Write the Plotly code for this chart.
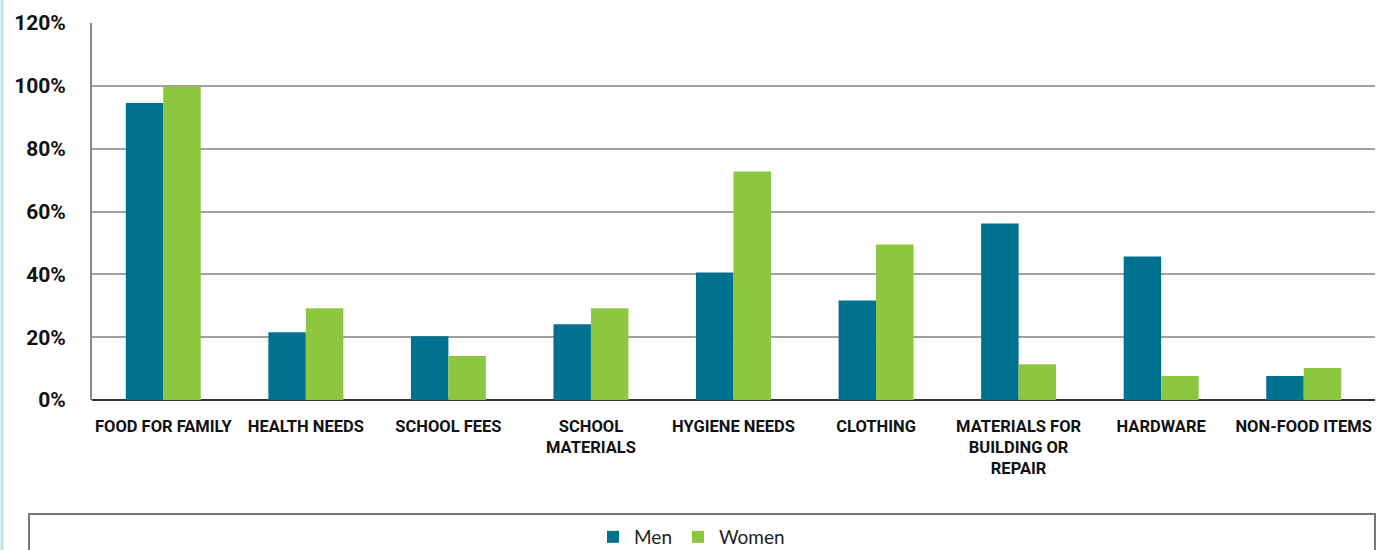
import plotly.graph_objects as go

categories = ["FOOD FOR FAMILY", "HEALTH NEEDS", "SCHOOL FEES", "SCHOOL<br>MATERIALS",
              "HYGIENE NEEDS", "CLOTHING", "MATERIALS FOR<br>BUILDING OR<br>REPAIR",
              "HARDWARE", "NON-FOOD ITEMS"]
men = [94.5, 21.6, 20.3, 24.1, 40.6, 31.7, 56.2, 45.7, 7.6]
women = [99.6, 29.2, 14.0, 29.2, 72.7, 49.5, 11.4, 7.6, 10.2]
tick_vals = [0, 20, 40, 60, 80, 100, 120]
tick_text = ["0%", "20%", "40%", "60%", "80%", "100%", "120%"]

TEAL = "#00728F"
GREEN = "#8DC63F"
COND = "Roboto, sans-serif"

fig = go.Figure()
fig.add_trace(go.Bar(name="Men", x=categories, y=men, marker_color=TEAL,
                     marker_line_width=0))
fig.add_trace(go.Bar(name="Women", x=categories, y=women, marker_color=GREEN,
                     marker_line_width=0))

L, R, T, B = 92, 25, 23, 150
W, H = 1400, 550
pw = W - L - R
ph = H - T - B

def px_x(x):
    return (x - L) / pw

def px_y(y):
    return (H - B - y) / ph

fig.update_layout(
    width=W, height=H,
    margin=dict(l=L, r=R, t=T, b=B, autoexpand=False),
    paper_bgcolor="white", plot_bgcolor="white",
    barmode="group", bargap=0.474, bargroupgap=0,
    showlegend=True,
    legend=dict(orientation="h", x=px_x(691), xanchor="center",
                y=px_y(537), yanchor="middle",
                font=dict(family="Lato, Open Sans, sans-serif", size=19, color="#222"),
                itemwidth=32, traceorder="normal", bgcolor="rgba(0,0,0,0)"),
    xaxis=dict(showgrid=False, ticks="", showline=False,
               ticklabelstandoff=14,
               tickfont=dict(family=COND, size=16.5, color="#111", weight="bold"),
               tickangle=0),
    yaxis=dict(range=[0, 120], tickvals=tick_vals, ticktext=tick_text,
               showgrid=True, gridcolor="#a0a0a0", gridwidth=1.5,
               zeroline=True, zerolinecolor="#333", zerolinewidth=2,
               showline=True, linecolor="#888", linewidth=2,
               ticks="", ticklabelstandoff=20,
               tickfont=dict(family=COND, size=21, color="#111", weight="bold")),
    shapes=[
        dict(type="rect", xref="paper", yref="paper",
             x0=px_x(29), x1=px_x(1375), y0=px_y(514), y1=px_y(570),
             line=dict(color="#777", width=2), fillcolor="rgba(0,0,0,0)"),
        dict(type="line", xref="paper", yref="paper",
             x0=px_x(2), x1=px_x(2), y0=px_y(0), y1=px_y(550),
             line=dict(color="#bfe3ec", width=3)),
    ],
)

fig.write_html("out.html", post_script="document.body.style.margin='0';",
               config={"displayModeBar": False})
